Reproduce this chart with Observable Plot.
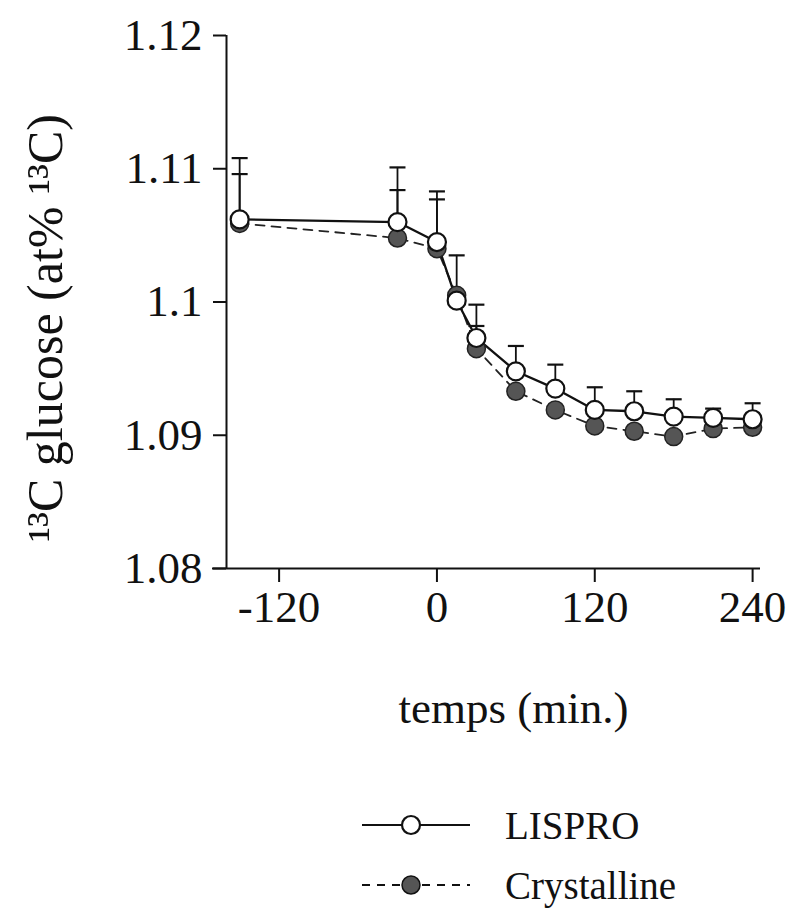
<!DOCTYPE html>
<html>
<head>
<meta charset="utf-8">
<script src="https://cdn.jsdelivr.net/npm/d3@7"></script>
<script src="https://cdn.jsdelivr.net/npm/@observablehq/plot@0.6"></script>
<style>
  html, body { margin: 0; padding: 0; background: #fff; }
  #wrap { position: relative; width: 793px; height: 910px; overflow: hidden; font-family: "Liberation Serif", "DejaVu Serif", serif; }
  #legend { position: absolute; left: 0; top: 0; width: 793px; height: 910px; pointer-events: none; }
</style>
</head>
<body>
<div id="wrap">
  <div id="chart"></div>
  <svg id="legend" width="793" height="910"></svg>
</div>
<script>
// ---- data ----
const times = [-150, -30, 0, 15, 30, 60, 90, 120, 150, 180, 210, 240];
const lispro = [1.1062, 1.1060, 1.1045, 1.1001, 1.0973, 1.0948, 1.0935, 1.0919, 1.0918, 1.0914, 1.0913, 1.0912];
const lisproUpper = [1.1108, 1.1101, 1.1083, 1.1035, 1.0998, 1.0967, 1.0953, 1.0936, 1.0933, 1.0927, 1.0920, 1.0924];
const crystalline = [1.1059, 1.1048, 1.1040, 1.1005, 1.0965, 1.0933, 1.0919, 1.0907, 1.0903, 1.0899, 1.0905, 1.0906];
const crystallineUpper = [1.1096, 1.1084, 1.1077, null, 1.0982, null, null, null, null, null, null, null];
const xTicks = [-120, 0, 120, 240];
const xTickLabels = ["-120", "0", "120", "240"];
const yTicks = [1.08, 1.09, 1.10, 1.11, 1.12];
const yTickLabels = ["1.08", "1.09", "1.1", "1.11", "1.12"];
const seriesNames = ["LISPRO", "Crystalline"];
const xLabel = "temps (min.)";
const yLabel = "¹³C glucose (at% ¹³C)";

const xDomain = [-160, 246];
const yDomain = [1.08, 1.12];

const lisproData = times.map((t, i) => ({t, v: lispro[i], up: lisproUpper[i]}));
const crystData = times.map((t, i) => ({t, v: crystalline[i], up: crystallineUpper[i]}));

// horizontal cap symbol for error bars
const capSymbol = {
  draw(context, size) {
    const w = Math.sqrt(size / Math.PI);
    context.moveTo(-w, 0);
    context.lineTo(w, 0);
  }
};

const font = "Liberation Serif, DejaVu Serif, serif";

const chart = Plot.plot({
  width: 793,
  height: 760,
  marginLeft: 226,
  marginRight: 33,
  marginTop: 35,
  marginBottom: 192,
  style: { fontFamily: font, fontSize: "45px", background: "#fff", color: "#111" },
  x: { domain: xDomain, ticks: xTicks },
  y: { domain: yDomain, ticks: yTicks },
  marks: [
    Plot.axisX({ ticks: xTicks, tickSize: 14, tickPadding: 8, strokeWidth: 2, label: null, fontSize: 45,
      tickFormat: (d) => xTickLabels[xTicks.indexOf(d)] }),
    Plot.axisY({ ticks: yTicks, tickSize: 13, tickPadding: 11, strokeWidth: 2, label: null, fontSize: 45,
      tickFormat: (d) => yTickLabels[yTicks.indexOf(d)] }),
    Plot.ruleX([xDomain[0]], { stroke: "#111", strokeWidth: 2 }),
    Plot.ruleY([yDomain[0]], { stroke: "#111", strokeWidth: 2, insetLeft: -14 }),
    // axis titles
    Plot.text([xLabel], { frameAnchor: "bottom", dy: 154, dx: 20, fontSize: 45, fill: "#111" }),
    Plot.text([yLabel], { frameAnchor: "left", textAnchor: "middle", dx: -181, dy: 26, rotate: -90, fontSize: 50, fill: "#111" }),
    // lines
    Plot.line(crystData, { x: "t", y: "v", stroke: "#222", strokeWidth: 1.8, strokeDasharray: "9,7" }),
    Plot.line(lisproData, { x: "t", y: "v", stroke: "#111", strokeWidth: 2.3 }),
    // error bars
    Plot.ruleX(crystData.filter(d => d.up != null), { x: "t", y1: "v", y2: "up", stroke: "#111", strokeWidth: 1.8 }),
    Plot.dot(crystData.filter(d => d.up != null), { x: "t", y: "up", symbol: capSymbol, r: 8, stroke: "#111", strokeWidth: 2.2, fill: "none" }),
    Plot.ruleX(lisproData, { x: "t", y1: "v", y2: "up", stroke: "#111", strokeWidth: 1.8 }),
    Plot.dot(lisproData, { x: "t", y: "up", symbol: capSymbol, r: 8, stroke: "#111", strokeWidth: 2.2, fill: "none" }),
    // points
    Plot.dot(crystData, { x: "t", y: "v", r: 9, fill: "#555", stroke: "#222", strokeWidth: 1.5 }),
    Plot.dot(lisproData, { x: "t", y: "v", r: 9, fill: "#fff", stroke: "#111", strokeWidth: 2.2 })
  ]
});
document.getElementById("chart").appendChild(chart);

// ---- legend below the chart ----
const lg = d3.select("#legend");
const rows = [
  { name: seriesNames[0], cy: 825, dash: null, fill: "#fff", sw: 2.2 },
  { name: seriesNames[1], cy: 885, dash: "8,7", fill: "#555", sw: 1.8 }
];
for (const r of rows) {
  lg.append("line").attr("x1", 362).attr("x2", 470).attr("y1", r.cy).attr("y2", r.cy)
    .attr("stroke", "#111").attr("stroke-width", r.sw).attr("stroke-dasharray", r.dash);
  lg.append("circle").attr("cx", 411).attr("cy", r.cy).attr("r", 9)
    .attr("fill", r.fill).attr("stroke", "#111").attr("stroke-width", r.dash ? 1.5 : 2.2);
  lg.append("text").attr("x", 505).attr("y", r.cy).attr("dy", "0.35em")
    .attr("font-family", font).attr("font-size", 39).attr("fill", "#111").text(r.name);
}
</script>
</body>
</html>
